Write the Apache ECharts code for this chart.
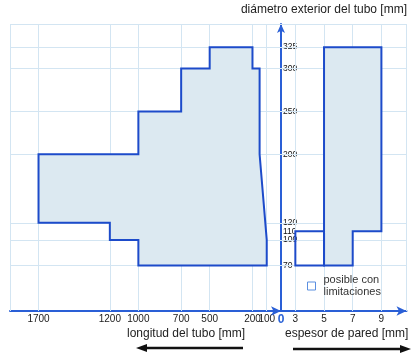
<!DOCTYPE html>
<html><head><meta charset="utf-8">
<script src="https://cdn.jsdelivr.net/npm/echarts@6/dist/echarts.min.js"></script>
<style>html,body{margin:0;padding:0;background:#fff}#c{width:420px;height:358px}</style>
</head><body><div id="c"></div>
<script>
// Left panel: tube length vs outer diameter
const lengthTicks = [1700, 1200, 1000, 700, 500, 200, 100, 0];
const lengthGrid = [1900, 1700, 1200, 1000, 700, 500, 200, 100];
const diameterTicks = [70, 100, 110, 120, 200, 250, 300, 325];
const diameterGrid = [70, 100, 120, 200, 250, 300, 325, 352];
const lengthPolyX = [1700, 1000, 1000, 700, 700, 500, 500, 200, 200, 150, 150, 100, 100, 1000, 1000, 1200, 1200, 1700];
const lengthPolyY = [200, 200, 250, 250, 300, 300, 325, 325, 300, 300, 200, 100, 70, 70, 100, 100, 120, 120];
// Right panel: wall thickness vs outer diameter
const wallTicks = [3, 5, 7, 9];
const wallGrid = [3, 5, 7, 9, 10.75];
const wallFullX = [5, 5, 9, 9, 7, 7];
const wallFullY = [70, 325, 325, 110, 110, 70];
const wallLimitedX = [3, 3, 5, 5];
const wallLimitedY = [70, 110, 110, 70];
const limitedName = 'posible con\nlimitaciones';

const BLUE = '#1d4bca';
const AXIS = '#2a5fd6';
const FILL = '#dce9f1';
const GRIDC = '#d3e5f2';
const FONT = 'Liberation Sans';

function pairs(xs, ys) { return xs.map((x, i) => [x, ys[i]]); }
function polyRender(xs, ys, fill) {
  return function (params, api) {
    if (params.dataIndex !== 0) return null;
    const pts = xs.map((x, i) => api.coord([x, ys[i]]));
    return { type: 'polygon', shape: { points: pts },
      style: { fill: fill, stroke: BLUE, lineWidth: 2, lineJoin: 'miter' } };
  };
}
function gridSeries(xi, xs, ys) {
  const data = xs.map(v => ({ xAxis: v })).concat(ys.map(v => ({ yAxis: v })));
  return { type: 'line', xAxisIndex: xi, yAxisIndex: xi, data: [], z: 1, silent: true,
    markLine: { z: 1, silent: true, symbol: ['none', 'none'], animation: false,
      label: { show: false }, lineStyle: { color: GRIDC, type: 'solid', width: 1 }, data: data } };
}

const chart = echarts.init(document.getElementById('c'), null, { renderer: 'canvas' });
chart.setOption({
  animation: false,
  textStyle: { fontFamily: FONT },
  grid: [
    { left: 10, top: 24, width: 271, height: 287 },
    { left: 281, top: 24, width: 125.5, height: 287 }
  ],
  xAxis: [
    { type: 'value', gridIndex: 0, inverse: true, min: 0, max: 1900,
      axisLine: { show: true, lineStyle: { color: AXIS, width: 2 }, symbol: ['none', 'arrow'], symbolSize: [7, 10] },
      axisTick: { show: false }, splitLine: { show: false },
      axisLabel: { customValues: lengthTicks, margin: 3, fontSize: 10, color: '#1a1a1a', fontFamily: FONT,
        formatter: v => v === 0 ? '{z|0}' : String(v),
        rich: { z: { fontSize: 12, color: '#2a62d6', fontFamily: FONT, fontWeight: 'bold' } } } },
    { type: 'value', gridIndex: 1, min: 2, max: 10.75,
      axisLine: { show: true, lineStyle: { color: AXIS, width: 2 }, symbol: ['none', 'arrow'], symbolSize: [7, 10] },
      axisTick: { show: false }, splitLine: { show: false },
      axisLabel: { customValues: wallTicks, margin: 3, fontSize: 10, color: '#1a1a1a', fontFamily: FONT } }
  ],
  yAxis: [
    { type: 'value', gridIndex: 0, min: 17, max: 352, show: false, splitLine: { show: false } },
    { type: 'value', gridIndex: 1, min: 17, max: 352,
      axisLine: { show: true, lineStyle: { color: AXIS, width: 2 }, symbol: ['none', 'arrow'], symbolSize: [6, 9] },
      axisTick: { show: false }, splitLine: { show: false },
      axisLabel: { inside: true, customValues: diameterTicks, margin: 2, fontSize: 8.5, color: '#111', fontFamily: FONT } }
  ],
  title: [
    { text: 'diámetro exterior del tubo [mm]', right: 13, top: 4, padding: 0,
      textStyle: { fontSize: 12, fontWeight: 'normal', color: '#222', fontFamily: FONT } },
    { text: 'longitud del tubo [mm]', left: 127, top: 328, padding: 0,
      textStyle: { fontSize: 12, fontWeight: 'normal', color: '#222', fontFamily: FONT } },
    { text: 'espesor de pared [mm]', left: 285, top: 328, padding: 0,
      textStyle: { fontSize: 12, fontWeight: 'normal', color: '#222', fontFamily: FONT } }
  ],
  legend: {
    left: 307, top: 270, padding: 0, itemWidth: 8, itemHeight: 8, selectedMode: false,
    data: [{ name: limitedName, icon: 'rect', itemStyle: { color: '#fff', borderColor: '#5b8fe0', borderWidth: 1 } }],
    textStyle: { fontSize: 11, color: '#333', lineHeight: 12, fontFamily: FONT, padding: [8, 0, 0, 3] }
  },
  graphic: [
    { type: 'polyline', shape: { points: [[145, 348], [243, 348]] }, style: { stroke: '#111', lineWidth: 2.5 } },
    { type: 'polygon', shape: { points: [[136, 348], [147, 344], [147, 352]] }, style: { fill: '#111' } },
    { type: 'polyline', shape: { points: [[293, 349], [402, 349]] }, style: { stroke: '#111', lineWidth: 2.5 } },
    { type: 'polygon', shape: { points: [[411, 349], [400, 345], [400, 353]] }, style: { fill: '#111' } }
  ],
  series: [
    gridSeries(0, lengthGrid, diameterGrid),
    gridSeries(1, wallGrid, diameterGrid),
    { type: 'custom', name: 'longitud', xAxisIndex: 0, yAxisIndex: 0, z: 3,
      data: pairs(lengthPolyX, lengthPolyY), renderItem: polyRender(lengthPolyX, lengthPolyY, FILL) },
    { type: 'custom', name: 'espesor', xAxisIndex: 1, yAxisIndex: 1, z: 3,
      data: pairs(wallFullX, wallFullY), renderItem: polyRender(wallFullX, wallFullY, FILL) },
    { type: 'custom', name: limitedName, xAxisIndex: 1, yAxisIndex: 1, z: 3,
      data: pairs(wallLimitedX, wallLimitedY), renderItem: polyRender(wallLimitedX, wallLimitedY, 'rgba(0,0,0,0)') }
  ]
});
</script></body></html>
